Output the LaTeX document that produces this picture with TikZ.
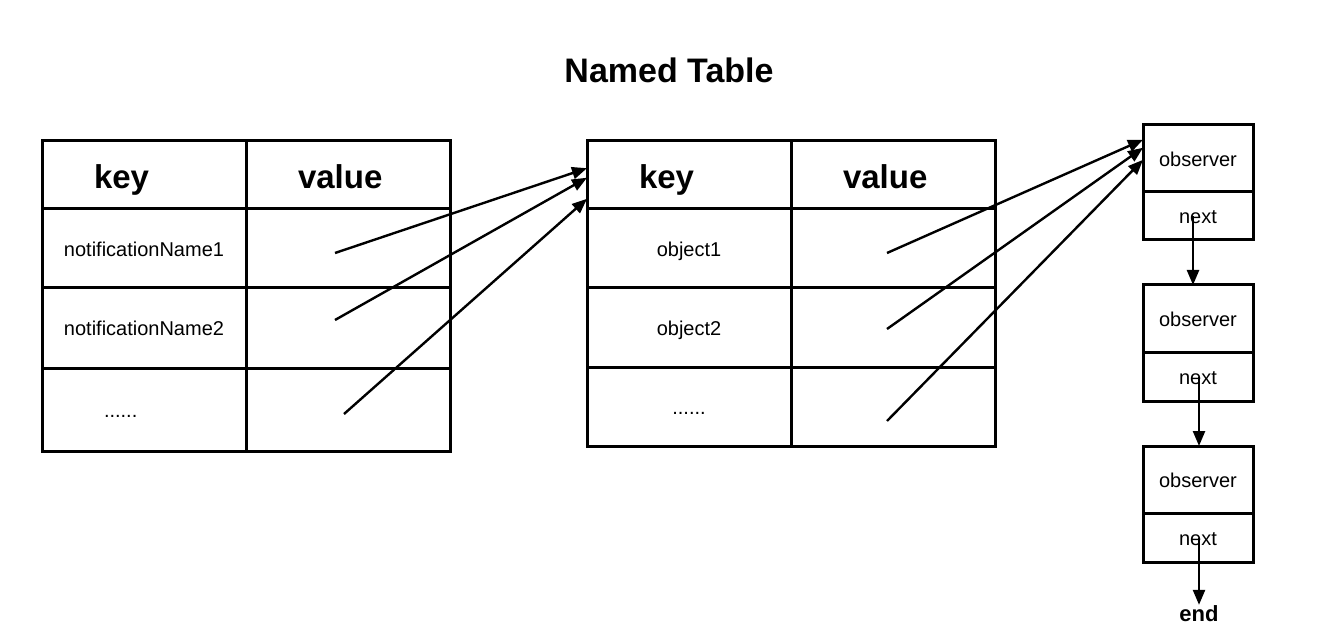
\documentclass[tikz,border=0pt]{standalone}
\usepackage{fontspec}
\setmainfont{Liberation Sans}
\usetikzlibrary{arrows.meta,calc,positioning}
\newcommand{\fsz}[1]{\fontsize{#1}{#1}\selectfont}

\begin{document}
\begin{tikzpicture}[x=1pt, y=-1pt, node distance=0pt,
					cell/.style={draw, line width=3pt, minimum width=204pt, minimum height=#1, inner sep=0pt, outer sep=0pt,
						font=\fsz{20}, text height=18pt, text depth=2pt},
					cell/.default=79pt,
					hcell/.style={cell=68pt, font=\fsz{33}\bfseries, align=left, text width=100pt, inner xsep=52pt,
						text height=28pt, text depth=0pt},
					box/.style={draw, line width=3pt, minimum width=110pt, minimum height=#1, inner sep=0pt, outer sep=0pt,
						font=\fsz{20}, text height=18pt, text depth=2pt},
					ptr/.style={line width=2.4pt, -{Triangle[length=15pt, width=12pt]}}
				]
				\useasboundingbox (0,0) rectangle (1320,644);
				\node[font=\fsz{34}\bfseries] (title) at (669,70) {Named Table};
				
				% notification names
				\node[hcell, anchor=north west] (lk) at (42,141) {key};
				\node[hcell, right=of lk] (lv) {value};
				\node[cell, below=of lk] (ln1) {notificationName1};
				\node[cell, right=of ln1] (lv1) {};
				\node[cell=80pt, below=of ln1] (ln2) {notificationName2};
				\node[cell=80pt, right=of ln2] (lv2) {};
				\node[cell=83pt, below=of ln2, align=left, text width=80pt, inner xsep=62pt] (ln3) {......};
				\node[cell=83pt, right=of ln3] (lv3) {};
				
				% objects
				\node[hcell, anchor=north west] (mk) at (587,141) {key};
				\node[hcell, right=of mk] (mv) {value};
				\node[cell, below=of mk] (mo1) {object1};
				\node[cell, right=of mo1] (mv1) {};
				\node[cell, below=of mo1] (mo2) {object2};
				\node[cell, right=of mo2] (mv2) {};
				\node[cell, below=of mo2] (mo3) {......};
				\node[cell, right=of mo3] (mv3) {};
				
				% observer list
				\node[box=67pt, anchor=north west] (o1) at (1143,125) {observer};
				\node[box=48pt, below=of o1] (n1) {next};
				\node[box=67pt, anchor=north west] (o2) at (1143,285) {observer};
				\node[box=49pt, below=of o2] (n2) {next};
				\node[box=67pt, anchor=north west] (o3) at (1143,446) {observer};
				\node[box=49pt, below=of o3] (n3) {next};
				\node[font=\fsz{22}\bfseries, inner sep=0pt, anchor=base] (end) at (1199,621) {end};
				
				\coordinate (a1) at (335,253);
				\coordinate (a2) at (335,320);
				\coordinate (a3) at (344,414);
				\coordinate (b1) at (887,253);
				\coordinate (b2) at (887,329);
				\coordinate (b3) at (887,421);
				
				\draw[ptr] (a1) -- ($(mk.north west)!.4!(mk.south west)$);
				\draw[ptr] (a2) -- ($(mk.north west)!.54!(mk.south west)$);
				\draw[ptr] (a3) -- ($(mk.north west)!.85!(mk.south west)$);
				\draw[ptr] (b1) -- ($(o1.north west)!.22!(o1.south west)$);
				\draw[ptr] (b2) -- ($(o1.north west)!.34!(o1.south west)$);
				\draw[ptr] (b3) -- ($(o1.north west)!.52!(o1.south west)$);
				
				\draw[ptr] ([xshift=-5pt]n1.center) -- ([xshift=-5pt]o2.north);
				\draw[ptr] ([xshift=1pt]n2.center) -- ([xshift=1pt]o3.north);
				\draw[ptr] ([xshift=1pt]n3.center) -- (end.north);
			\end{tikzpicture}
\end{document}
